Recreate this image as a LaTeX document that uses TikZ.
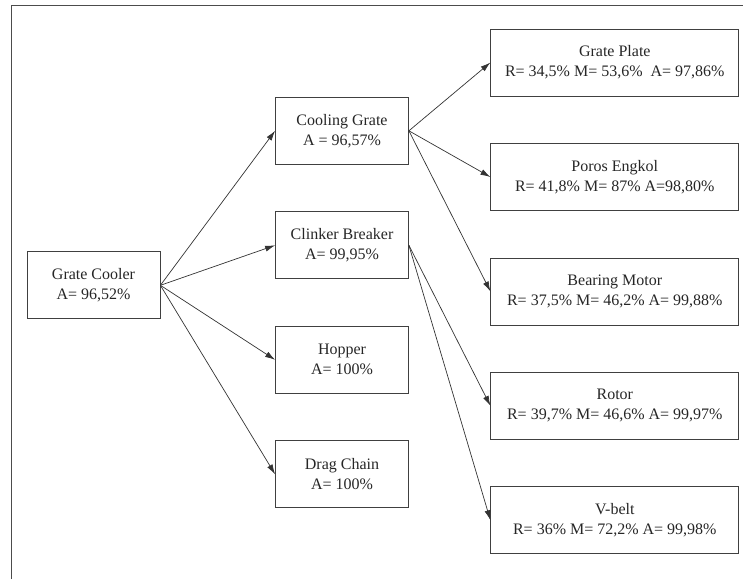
\documentclass[tikz,border=0pt]{standalone}
\usepackage{fontspec}
\setmainfont{Liberation Serif}
\usetikzlibrary{arrows.meta}

\begin{document}
\begin{tikzpicture}[x=1pt,y=-1pt,
  box/.style={draw=black!75,line width=0.8pt,minimum height=67pt,inner sep=0pt,align=center,text=black!85,font=\fontsize{16}{20}\selectfont},
  small/.style={box,minimum width=133pt},
  wide/.style={box,minimum width=248pt},
  link/.style={-{Latex[length=10pt,width=6pt]},line width=0.7pt,black!80}]
\useasboundingbox (0,0) rectangle (743,579);
\draw [black!70,line width=0.8pt] (11.7,579) -- (11.7,5) -- (743,5);
% left and middle column
\node [small] (cooler) at (93.5,285.3) {Grate Cooler\\A= 96,52\%};
\node [small] (cgrate) at (342,130.8) {Cooling Grate\\A = 96,57\%};
\node [small] (breaker) at (342,245.3) {Clinker Breaker\\A= 99,95\%};
\node [small] (hopper) at (342,359.8) {Hopper\\A= 100\%};
\node [small] (chain) at (342,474.3) {Drag Chain\\A= 100\%};
% right column
\node [wide] (plate) at (614.8,62.5) {Grate Plate\\R= 34,5\% M= 53,6\%~~A= 97,86\%};
\node [wide] (poros) at (614.8,177) {Poros Engkol\\R= 41,8\% M= 87\% A=98,80\%};
\node [wide] (bearing) at (614.8,291.4) {Bearing Motor\\R= 37,5\% M= 46,2\% A= 99,88\%};
\node [wide] (rotor) at (614.8,405.8) {Rotor\\R= 39,7\% M= 46,6\% A= 99,97\%};
\node [wide] (vbelt) at (614.8,520.2) {V-belt\\R= 36\% M= 72,2\% A= 99,98\%};
\foreach \t in {cgrate,breaker,hopper,chain}
  \draw [link] (cooler.east) -- (\t.west);
\foreach \t in {plate,poros,bearing}
  \draw [link] (cgrate.east) -- (\t.west);
\foreach \t in {rotor,vbelt}
  \draw [link] (breaker.east) -- (\t.west);
\end{tikzpicture}
\end{document}
